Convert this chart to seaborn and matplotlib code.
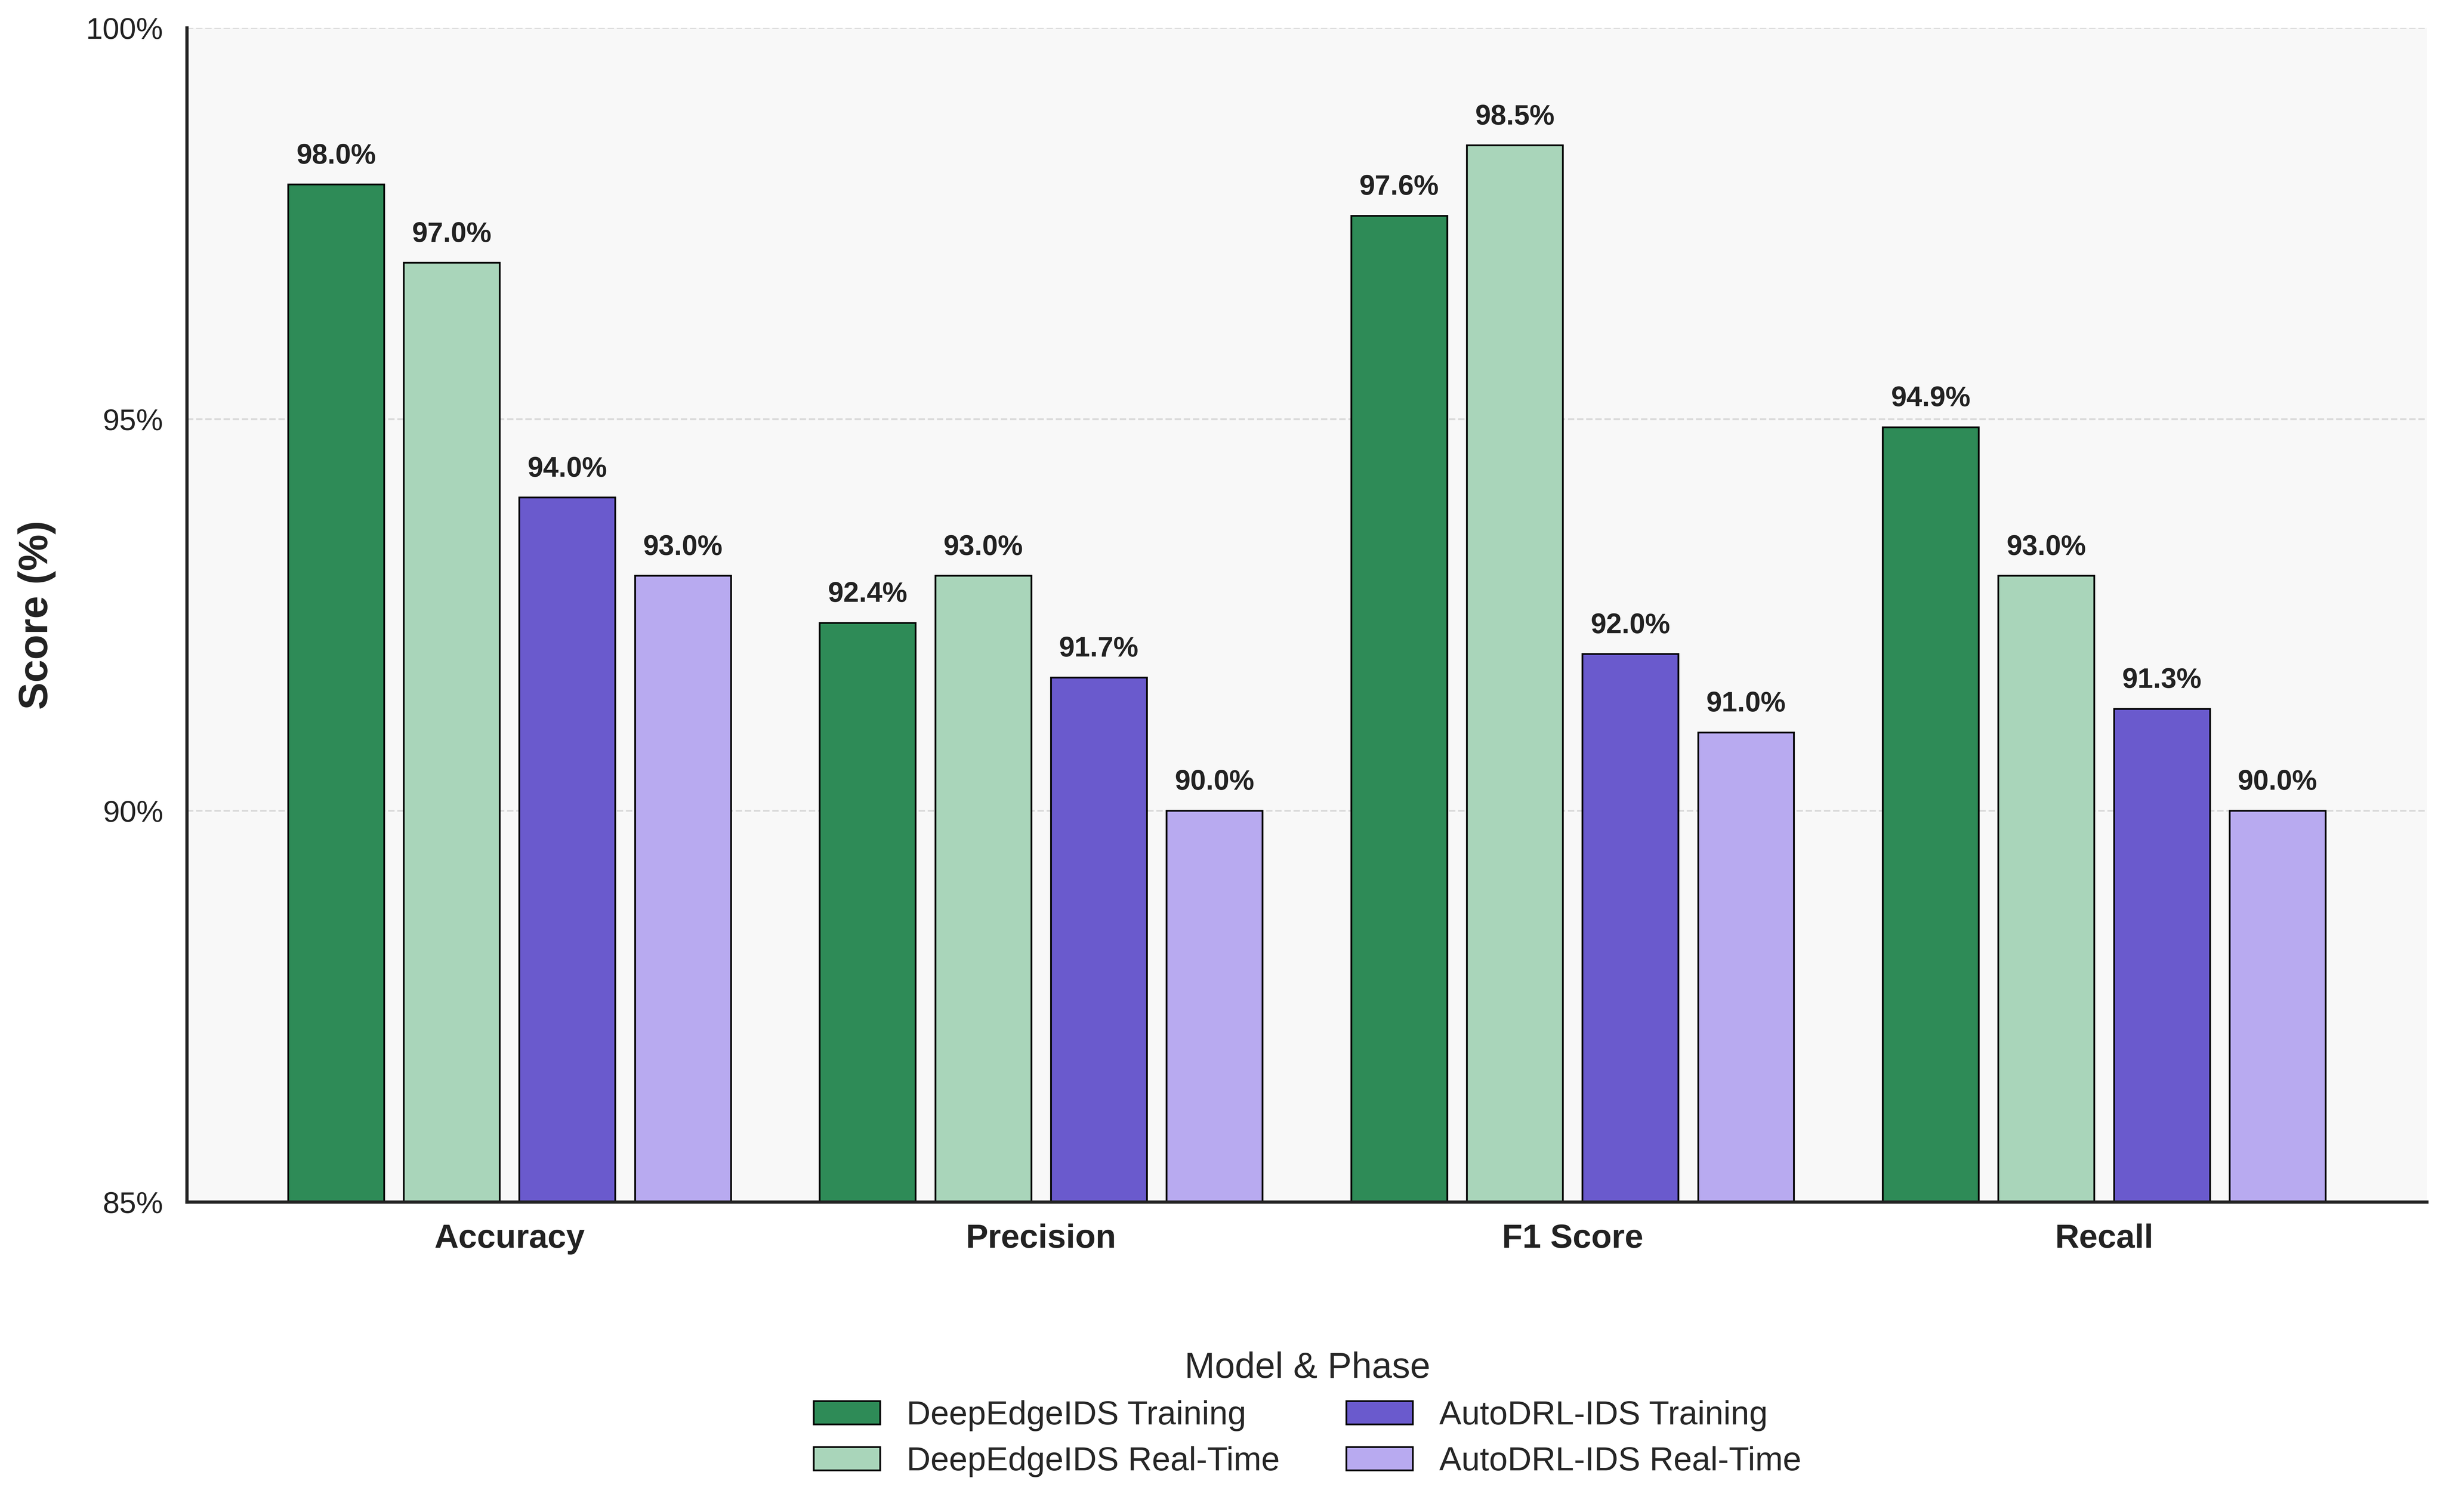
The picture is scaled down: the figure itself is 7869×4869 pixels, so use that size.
import pandas as pd
import matplotlib
matplotlib.use('Agg')
import matplotlib.pyplot as plt
import matplotlib.patches as mpatches
import seaborn as sns

# Données
metrics = ['Accuracy', 'Precision', 'F1 Score', 'Recall']
series = ['DeepEdgeIDS Training', 'DeepEdgeIDS Real-Time',
          'AutoDRL-IDS Training', 'AutoDRL-IDS Real-Time']
deepedge_train = [98.0, 92.4, 97.6, 94.9]
deepedge_rt = [97.0, 93.0, 98.5, 93.0]
autodrl_train = [94.0, 91.7, 92.0, 91.3]
autodrl_rt = [93.0, 90.0, 91.0, 90.0]
colors = ['#2E8B57', '#A9D5BA', '#6A5ACD', '#B8AAF0']
y_ticks = [85, 90, 95, 100]

rows = []
for name, vals in zip(series, [deepedge_train, deepedge_rt, autodrl_train, autodrl_rt]):
    for m, v in zip(metrics, vals):
        rows.append({'Metric': m, 'Score': v, 'Model & Phase': name})
df = pd.DataFrame(rows)

sns.set_theme(style='white')
plt.rcParams['font.family'] = ['Liberation Sans', 'DejaVu Sans']

fig = plt.figure(figsize=(15.738, 9.738), dpi=500)
ax = fig.add_axes([0.0765, 0.205, 0.9165, 0.7765])
ax.set_facecolor('#f8f8f8')
ax.set_axisbelow(True)
ax.yaxis.grid(True, linestyle='--', color='#d9d9d9', linewidth=0.8)

sns.barplot(data=df, x='Metric', y='Score', hue='Model & Phase', order=metrics,
            hue_order=series, palette=colors, saturation=1, edgecolor='black',
            linewidth=0.8, width=0.87, gap=0.17, errorbar=None, legend=False, ax=ax)

for c in ax.containers:
    ax.bar_label(c, fmt='%.1f%%', padding=7, fontsize=13, fontweight='bold', color='#222222')

ax.set_ylim(85, 100)
ax.set_xlim(-0.607, 3.607)
ax.set_yticks(y_ticks)
ax.set_yticklabels([f'{v}%' for v in y_ticks], fontsize=14, color='#222222')
ax.tick_params(axis='y', length=0, pad=11)
ax.tick_params(axis='x', length=0, pad=10)
ax.set_xticks(range(len(metrics)))
ax.set_xticklabels(metrics, fontsize=15.5, fontweight='bold', color='#222222')
ax.set_xlabel('')
ax.set_ylabel('Score (%)', fontsize=19, fontweight='bold', color='#222222', labelpad=14)

sns.despine(ax=ax)
for s in ['left', 'bottom']:
    ax.spines[s].set_color('#222222')
    ax.spines[s].set_linewidth(1.5)

handles = [mpatches.Patch(facecolor=c, edgecolor='black', linewidth=0.8, label=s)
           for c, s in zip(colors, series)]
fig.legend(handles=handles, loc='upper center', bbox_to_anchor=(0.535, 0.126), ncol=2,
           frameon=False, fontsize=15.4, title='Model & Phase', title_fontsize=16.8,
           handlelength=2.0, columnspacing=2.0, labelspacing=0.45)

plt.savefig('out.png', dpi=500)
